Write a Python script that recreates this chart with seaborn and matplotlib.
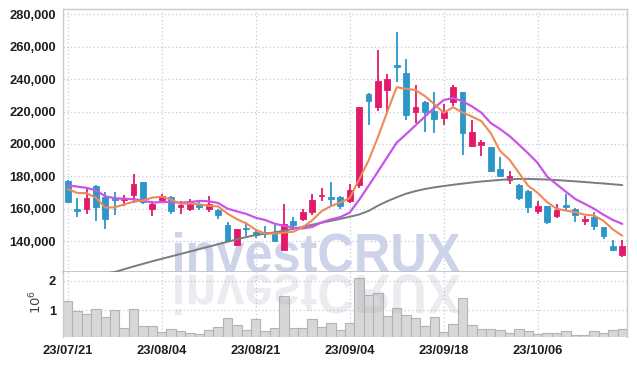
import matplotlib
matplotlib.use("Agg")
import numpy as np
import matplotlib.pyplot as plt
import seaborn as sns
from matplotlib.textpath import TextPath
from matplotlib.patches import PathPatch
from matplotlib.font_manager import FontProperties
from matplotlib.transforms import Affine2D
from matplotlib.ticker import FuncFormatter

# daily candles, 2023-07-21 .. 2023-10-20 (60 trading days)
tick_idx = [0, 10, 20, 30, 40, 50]
tick_labels = ["23/07/21", "23/08/04", "23/08/21", "23/09/04", "23/09/18", "23/10/06"]

open_ = [177400, 160100, 159900, 174300, 167300, 166500, 165300, 168300, 176300, 160100,
         165700, 167500, 160950, 159900, 162600, 159900, 159500, 150300, 137600, 148400,
         145600, 145600, 145800, 134900, 152500, 154000, 157900, 167700, 167500, 167100,
         164650, 174500, 230900, 222500, 233400, 248700, 244000, 220000, 225800, 220600,
         215900, 225800, 231700, 198900, 199500, 197900, 184700, 178000, 174900, 171200,
         158900, 161600, 155800, 162600, 160100, 152500, 155000, 148900, 137400, 131800]
high = [177800, 166700, 172800, 174600, 170400, 170400, 168700, 181700, 176800, 164600,
        169100, 167700, 164600, 166100, 164000, 167700, 159700, 151700, 147900, 151700,
        147200, 149300, 150100, 163000, 155200, 159900, 169100, 172800, 176900, 168100,
        175300, 222900, 231300, 258000, 243200, 269200, 252200, 236400, 226200, 232300,
        224700, 236400, 232000, 214500, 202600, 198100, 192300, 183100, 175100, 171500,
        165100, 161800, 163000, 169200, 160300, 155400, 157900, 149100, 141100, 141100]
low = [163500, 155000, 156800, 152300, 147800, 156400, 161600, 163600, 163000, 155400,
       165000, 156800, 156800, 158900, 159500, 157900, 153800, 140000, 136900, 143500,
       142100, 142100, 139800, 134500, 146800, 152900, 156000, 164600, 161200, 159900,
       163600, 172800, 211800, 220600, 218400, 238100, 214900, 212800, 207100, 206700,
       211800, 223500, 193400, 198100, 192700, 182500, 179700, 175300, 165300, 157500,
       157100, 150900, 154400, 159100, 151900, 150100, 146800, 141700, 134300, 130200]
close = [164000, 158500, 166700, 161000, 153800, 165300, 166900, 175500, 164200, 163200,
         167700, 158500, 162600, 164650, 160950, 163200, 156400, 140250, 147800, 147600,
         144100, 144750, 140000, 150700, 150300, 158100, 165700, 168300, 166300, 161600,
         171800, 222700, 226200, 238900, 239900, 247100, 217600, 222700, 220000, 215500,
         220000, 235000, 206700, 207300, 201400, 183100, 180000, 180000, 166700, 161200,
         161600, 151700, 159500, 160950, 156400, 153800, 149300, 143100, 134500, 137000]

# volume in millions of shares
volume_m = [1.33, 0.98, 0.87, 1.04, 0.79, 1.01, 0.39, 1.04, 0.48, 0.48,
            0.28, 0.37, 0.29, 0.24, 0.21, 0.33, 0.44, 0.73, 0.52, 0.33,
            0.70, 0.29, 0.39, 1.48, 0.42, 0.42, 0.70, 0.44, 0.58, 0.33,
            0.58, 2.11, 1.52, 1.59, 0.81, 1.08, 0.84, 0.73, 0.46, 0.77,
            0.27, 0.53, 1.42, 0.50, 0.36, 0.36, 0.33, 0.25, 0.36, 0.29,
            0.21, 0.25, 0.25, 0.29, 0.18, 0.18, 0.29, 0.25, 0.33, 0.36]

ma5 = [172300, 169900, 169700, 167000, 160800, 161060, 162740, 164500, 165140, 167020,
       167500, 165820, 163240, 163330, 162880, 161980, 161560, 157090, 153720, 151050,
       147230, 144900, 144850, 145430, 145970, 148770, 152960, 158620, 161740, 164000,
       166740, 178140, 189720, 204240, 219900, 234960, 233940, 233240, 229460, 224580,
       219160, 222640, 219440, 216900, 214080, 206700, 195700, 190360, 182240, 174200,
       169900, 164240, 160140, 158990, 158030, 156470, 155990, 152710, 147420, 143540]
ma10 = [174500, 173800, 173000, 171500, 167800, 166600, 166300, 166000, 165300, 163910,
        164280, 164280, 163870, 164235, 164950, 164740, 163690, 160165, 158525, 156965,
        154605, 153230, 150970, 149575, 148510, 148000, 148930, 151735, 153585, 154985,
        157755, 165550, 174170, 182990, 191950, 200850, 206040, 211480, 216850, 222240,
        227060, 228290, 226340, 223180, 219330, 212930, 209170, 204900, 199570, 194140,
        188300, 179970, 175250, 170615, 166115, 163185, 160115, 156425, 153230, 150800]
ma60 = [113500, 115200, 116900, 118600, 120300, 121200, 122900, 124600, 126200, 127800,
        129300, 130800, 132300, 133800, 135300, 136800, 138300, 139800, 141300, 142700,
        144000, 144800, 145600, 146600, 147800, 149000, 150300, 151500, 152700, 153900,
        155200, 156600, 158800, 162000, 164800, 167200, 169400, 171000, 172300, 173300,
        174100, 174900, 175600, 176300, 176900, 177400, 177900, 178300, 178500, 178500,
        178300, 178100, 177800, 177400, 177000, 176600, 176100, 175700, 175200, 174700]

RED = "#e4196a"
BLUE = "#2d97c9"
GRID = "#c5cadf"
SPINE = "#cbcbcb"

sns.set_theme(style="white")
plt.rcParams["font.family"] = ["Liberation Sans", "DejaVu Sans"]

W, H = 637, 366
fig = plt.figure(figsize=(W / 100, H / 100), dpi=100)
ax = fig.add_axes([63 / W, 1 - 272 / H, 564 / W, 263 / H])
axv = fig.add_axes([63 / W, 1 - 337 / H, 564 / W, 65 / H], sharex=ax)

idx = np.arange(len(close))
o = np.array(open_)
c = np.array(close)
cols = np.where(c >= o, RED, BLUE)

# candles
ax.vlines(idx, low, high, colors=cols, linewidth=1.3, zorder=3)
ax.bar(idx, np.maximum(np.abs(c - o), 700), bottom=np.minimum(o, c), width=0.62,
       color=cols, edgecolor=cols, linewidth=0.6, zorder=3)

# moving averages
sns.lineplot(x=idx, y=ma60, ax=ax, color="#7c7c7c", linewidth=1.4, zorder=4)
sns.lineplot(x=idx, y=ma10, ax=ax, color="#c955e8", linewidth=1.6, zorder=4)
sns.lineplot(x=idx, y=ma5, ax=ax, color="#ee8a55", linewidth=1.5, zorder=4)

# volume
sns.barplot(x=idx, y=volume_m, ax=axv, native_scale=True, width=1.0, color="#d7d7d7",
            edgecolor="#b3b3b3", linewidth=0.8, saturation=1, errorbar=None)

# watermark and its reflection
fp = FontProperties(family="Liberation Sans", weight="bold")
tp = TextPath((0, 0), "investCRUX", size=100, prop=fp)
ext = tp.get_extents()
sx = 285 / ext.width
sy = 40 / ext.y1
base = H - 272
wm = Affine2D().translate(-ext.x0, 0).scale(sx, sy).translate(175, base)
ax.add_patch(PathPatch(tp, transform=wm, facecolor="#cdd3e8", edgecolor="none",
                       zorder=2, clip_on=False))
wr = Affine2D().translate(-ext.x0, 0).scale(sx, -sy).translate(175, base - 3)
axv.add_patch(PathPatch(tp, transform=wr, facecolor="#a5a5bd", edgecolor="none",
                        alpha=0.22, zorder=3))

for a in (ax, axv):
    a.set_axisbelow(True)
    a.grid(True, color=GRID, linestyle=(0, (1, 2)), linewidth=0.9)
    a.tick_params(length=0, pad=5, labelsize=9.3, labelcolor="#1e1e1e")
    a.set_xlabel("")
    a.set_ylabel("")
    for s in a.spines.values():
        s.set_color(SPINE)
        s.set_linewidth(1.0)
    for lab in a.get_xticklabels() + a.get_yticklabels():
        lab.set_fontweight("bold")

ax.spines["bottom"].set_color("#bdbdbd")
ax.spines["bottom"].set_linewidth(1.2)
axv.spines["top"].set_visible(False)
axv.spines["bottom"].set_visible(False)

ax.set_yticks(range(140000, 280001, 20000))
ax.yaxis.set_major_formatter(FuncFormatter(lambda v, p: f"{v:,.0f}"))
ax.tick_params(labelbottom=False)
axv.set_xticks(tick_idx)
axv.set_xticklabels(tick_labels, fontweight="bold")
axv.set_yticks([1, 2])
axv.set_yticklabels(["1", "2"], fontweight="bold")
axv.tick_params(axis="x", pad=6)
for lab in ax.get_yticklabels():
    lab.set_fontweight("bold")

ax.set_xlim(-0.5, len(close) - 0.5)
ax.set_ylim(121200, 283100)
axv.set_ylim(0.1, 2.3)

fig.text(36 / W, 1 - 302 / H, r"$10^{6}$", rotation=90, ha="center", va="center",
         fontsize=9.5, color="#444444")

fig.savefig("out.png", dpi=100)
